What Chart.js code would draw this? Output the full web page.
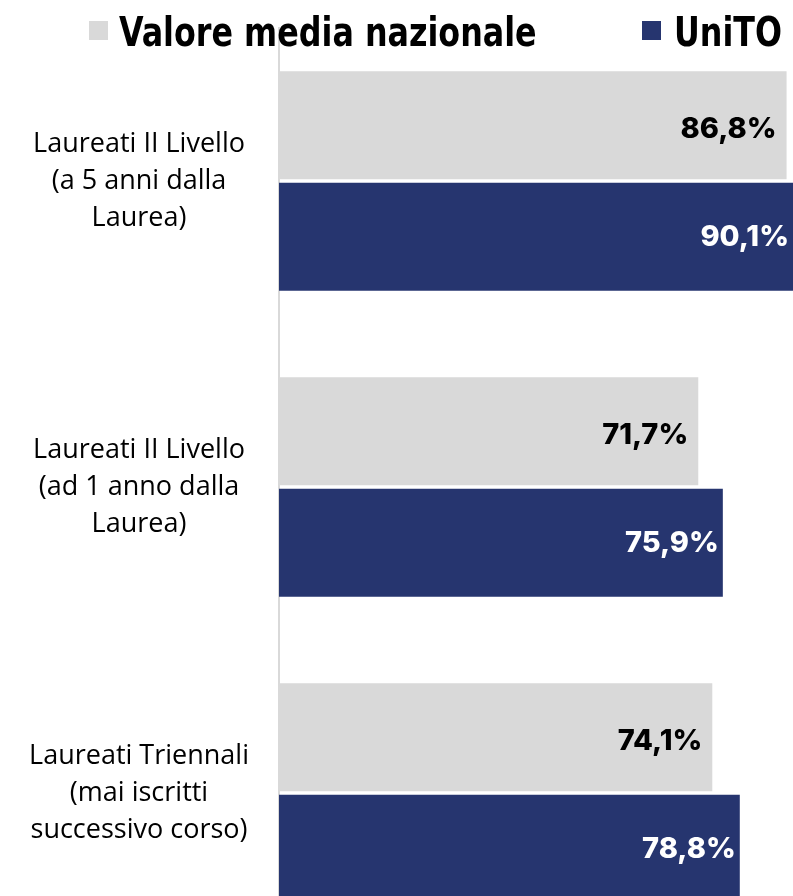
<!DOCTYPE html>
<html>
<head>
<meta charset="utf-8">
<script src="https://cdn.jsdelivr.net/npm/chart.js@4.4.1/dist/chart.umd.min.js"></script>
<style>
  html, body { margin: 0; padding: 0; background: #fff; overflow: hidden; }
  #wrap { position: relative; width: 793px; height: 946px; }
  #legend span.box { position: absolute; width: 19px; height: 19px; }
  #legend span.txt {
    position: absolute; font-family: "Liberation Sans Narrow", "DejaVu Sans Condensed", sans-serif;
    font-weight: bold; font-size: 40px; line-height: 40px; color: #000; white-space: nowrap;
    transform: scaleX(0.883); transform-origin: 0 0;
  }
</style>
</head>
<body>
<div id="wrap">
  <canvas id="barChart" width="793" height="946"></canvas>
  <div id="legend"></div>
</div>
<script>
  'use strict';

  // categories (top to bottom)
  var categories = [
    ['Laureati II Livello', '(a 5 anni dalla', 'Laurea)'],
    ['Laureati II Livello', '(ad 1 anno dalla', 'Laurea)'],
    ['Laureati Triennali', '(mai iscritti', 'successivo corso)']
  ];
  var seriesNames = ['Valore media nazionale', 'UniTO'];
  var mediaNazionale = [86.8, 71.7, 74.1];
  var unito = [90.1, 75.9, 78.8];

  var GREY = '#d9d9d9';
  var BLUE = '#26356f';

  // ------------------------------------------------------- //
  // Legend (html)
  // ------------------------------------------------------ //
  var legend = document.getElementById('legend');
  legend.innerHTML =
    '<span class="box" style="left:89px;top:21px;background:' + GREY + '"></span>' +
    '<span class="txt" style="left:119px;top:12px">' + seriesNames[0] + '</span>' +
    '<span class="box" style="left:642px;top:21px;background:' + BLUE + '"></span>' +
    '<span class="txt" style="left:674px;top:12px">' + seriesNames[1] + '</span>';

  // ------------------------------------------------------- //
  // Value labels at bar end
  // ------------------------------------------------------ //
  var valueLabels = {
    id: 'valueLabels',
    afterDatasetsDraw: function (chart) {
      var ctx = chart.ctx;
      var area = chart.chartArea;
      ctx.save();
      ctx.font = '800 29px Inter, Roboto, sans-serif';
      ctx.textAlign = 'right';
      ctx.textBaseline = 'middle';
      chart.data.datasets.forEach(function (ds, i) {
        var meta = chart.getDatasetMeta(i);
        meta.data.forEach(function (bar, j) {
          var x = Math.min(bar.x, area.right) - (i === 0 ? 10 : 4);
          ctx.fillStyle = i === 0 ? '#000' : '#fff';
          ctx.fillText(ds.data[j].toFixed(1).replace('.', ',') + '%', x, bar.y + (i === 0 ? 4 : 1));
        });
      });
      ctx.restore();
    }
  };

  var barChart = new Chart(document.getElementById('barChart'), {
    type: 'bar',
    data: {
      labels: categories,
      datasets: [{
        label: seriesNames[0],
        data: mediaNazionale,
        backgroundColor: GREY,
        categoryPercentage: 0.729,
        barPercentage: 0.969
      }, {
        label: seriesNames[1],
        data: unito,
        backgroundColor: BLUE,
        categoryPercentage: 0.729,
        barPercentage: 0.969
      }]
    },
    options: {
      indexAxis: 'y',
      responsive: false,
      animation: false,
      layout: { padding: { top: 28, right: 0, bottom: 0, left: 0 } },
      plugins: {
        legend: { display: false },
        tooltip: { enabled: false }
      },
      scales: {
        x: {
          display: false,
          min: 0,
          max: 87.9
        },
        y: {
          afterFit: function (scale) {
            scale.width = 279;
            scale.paddingTop = 0;
            scale.paddingBottom = 0;
          },
          grid: { display: false, drawTicks: false },
          border: { display: true, color: GREY, width: 2 },
          ticks: {
            padding: 30,
            crossAlign: 'center',
            color: '#000',
            font: { family: '"Open Sans", Lato, sans-serif', size: 27, lineHeight: 1.37 }
          }
        }
      }
    },
    plugins: [valueLabels]
  });
</script>
</body>
</html>
